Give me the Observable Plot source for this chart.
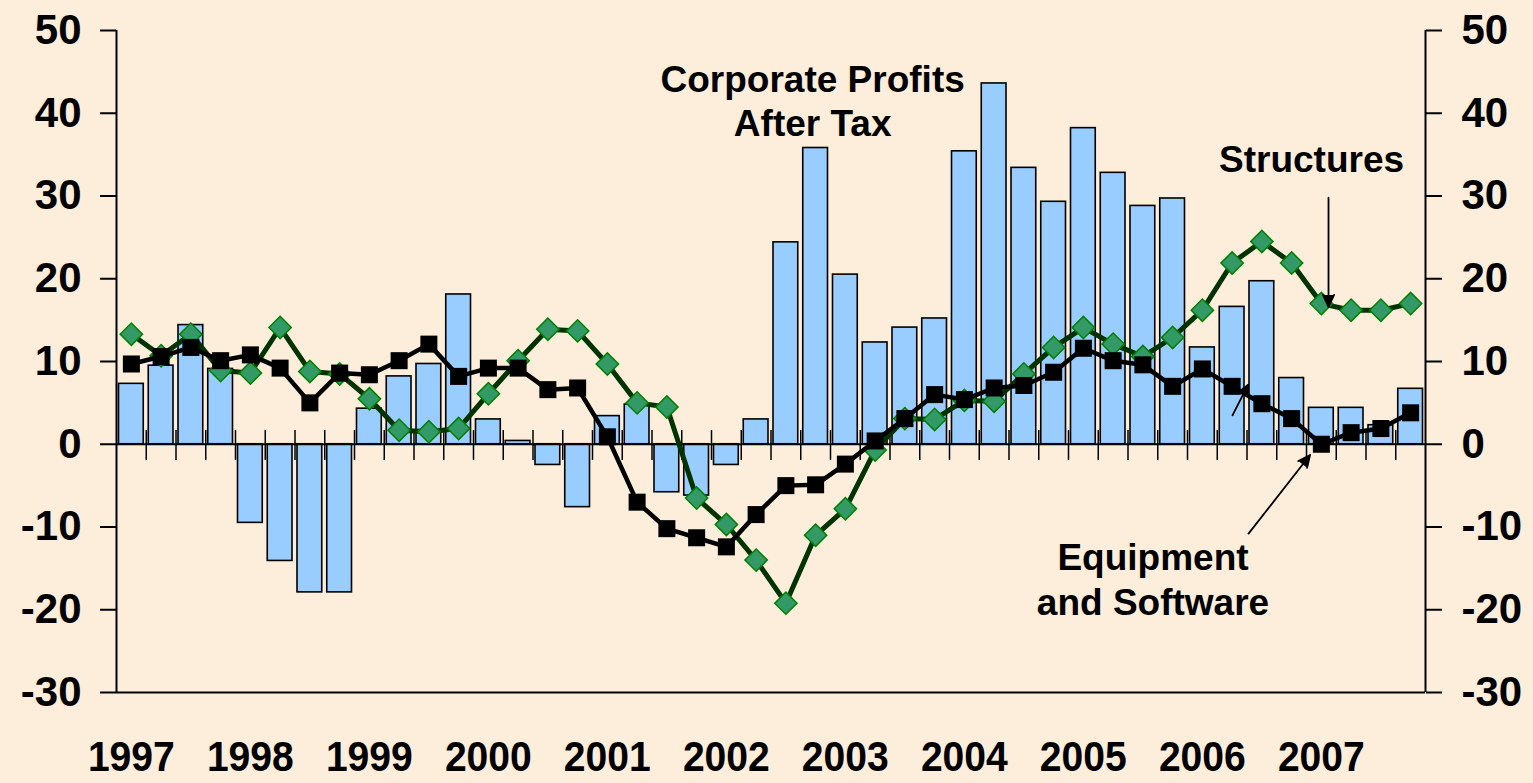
<!DOCTYPE html>
<html><head><meta charset="utf-8">
<script src="https://cdn.jsdelivr.net/npm/d3@7"></script>
<script src="https://cdn.jsdelivr.net/npm/@observablehq/plot@0.6"></script>
<style>
html,body{margin:0;padding:0;background:#FCEEDA;}
#chart{width:1533px;height:783px;overflow:hidden;}
</style></head><body><div id="chart"></div>
<script>
const years = [1997, 1998, 1999, 2000, 2001, 2002, 2003, 2004, 2005, 2006, 2007];
const yTicks = [-30, -20, -10, 0, 10, 20, 30, 40, 50];
// Corporate profits after tax (bars), quarterly 1997Q1..2007Q4
const profits = [7.3, 9.5, 14.4, 9.1, -9.5, -14.1, -17.9, -17.9, 4.3, 8.2, 9.7, 18.1,
  3.0, 0.4, -2.5, -7.6, 3.4, 4.8, -5.8, -6.2, -2.5, 3.0, 24.4, 35.8,
  20.5, 12.3, 14.1, 15.2, 35.4, 43.6, 33.4, 29.3, 38.2, 32.8, 28.8, 29.7,
  11.7, 16.6, 19.7, 8.0, 4.4, 4.4, 2.3, 6.7];
// Equipment and Software (black squares)
const equipment = [9.7, 10.6, 11.7, 10.1, 10.8, 9.2, 5.0, 8.6, 8.4, 10.1, 12.1, 8.2,
  9.2, 9.2, 6.6, 6.8, 0.9, -7.0, -10.2, -11.3, -12.4, -8.5, -5.0, -4.9,
  -2.4, 0.4, 3.1, 6.0, 5.4, 6.8, 7.1, 8.7, 11.6, 10.1, 9.6, 7.0,
  9.1, 7.0, 4.9, 3.1, 0.0, 1.4, 1.9, 3.8];
// Structures (green diamonds)
const structures = [13.3, 10.7, 13.3, 8.9, 8.6, 14.1, 8.8, 8.5, 5.5, 1.7, 1.5, 1.9,
  6.1, 10.1, 13.9, 13.7, 9.7, 5.0, 4.5, -6.5, -9.7, -14.0, -19.2, -11.0,
  -7.8, -0.7, 3.1, 3.0, 5.3, 5.2, 8.5, 11.7, 14.1, 12.1, 10.6, 12.9,
  16.2, 21.9, 24.5, 21.9, 17.0, 16.2, 16.2, 17.0];

const notes = [
  {x: 2002.85, y: 41.6, text: "Corporate Profits\nAfter Tax", anchor: "middle"},
  {x: 2007.82, y: 34.65, text: "Structures", anchor: "end"},
  {x: 2005.71, y: -16.2, text: "Equipment\nand Software", anchor: "middle"}
];
const arrows = [
  {x1: 2007.185, y1: 29.8, x2: 2007.185, y2: 16.6},
  {x1: 2006.513, y1: -10.8, x2: 2007.03, y2: -1.3},
  {x1: 2006.378, y1: 3.5, x2: 2006.51, y2: 7.2}
];

const quarters = years.flatMap(y => [0, 1, 2, 3].map(q => y + q / 4));
const rows = quarters.map((t, i) => ({
  t, t2: t + 0.25, tm: t + 0.125,
  profits: profits[i], equipment: equipment[i], structures: structures[i]
}));

const fontFamily = "'Liberation Sans', Arial, Helvetica, sans-serif";
const chart = Plot.plot({
  width: 1533, height: 783,
  marginLeft: 116, marginRight: 108, marginTop: 30, marginBottom: 91,
  style: {background: "#FCEEDA", fontFamily, color: "black", overflow: "visible"},
  x: {domain: [1997, 2008]},
  y: {domain: [-30, 50]},
  marks: [
    Plot.ruleX(quarters.slice(1), {y1: -1.95, y2: 1.65, stroke: "black", strokeWidth: 1.5}),
    Plot.rectY(rows, {x1: "t", x2: "t2", y1: 0, y2: "profits", fill: "#99CCFF", stroke: "black", strokeWidth: 1.6, insetLeft: 2.5, insetRight: 2.5}),
    Plot.ruleY([0], {stroke: "black", strokeWidth: 2}),
    Plot.ruleY([-30], {stroke: "black", strokeWidth: 2}),
    Plot.ruleX([1997, 2008], {stroke: "black", strokeWidth: 2}),
    Plot.line(rows, {x: "tm", y: "structures", stroke: "#003300", strokeWidth: 5}),
    Plot.dot(rows, {x: "tm", y: "structures", symbol: "square", rotate: 45, r: 8.9, fill: "#339966", stroke: "#008000", strokeWidth: 1.5}),
    Plot.line(rows, {x: "tm", y: "equipment", stroke: "black", strokeWidth: 4.5}),
    Plot.dot(rows, {x: "tm", y: "equipment", symbol: "square", r: 9.6, fill: "black"}),
    Plot.axisY(yTicks, {anchor: "left", tickSize: 16, tickPadding: 19, fontSize: 42, fontWeight: "bold", strokeWidth: 2, tickFormat: d => String(d)}),
    Plot.axisY(yTicks, {anchor: "right", tickSize: 16, tickPadding: 20, fontSize: 42, fontWeight: "bold", strokeWidth: 2, tickFormat: d => String(d)}),
    Plot.axisX(years.map(y => y + 0.125), {anchor: "bottom", tickSize: 0, tickPadding: 49, fontSize: 42, fontWeight: "bold", tickFormat: d => String(Math.floor(d))}),
    Plot.arrow(arrows, {x1: "x1", y1: "y1", x2: "x2", y2: "y2", stroke: "black", fill: "black", strokeWidth: 1.8, headLength: 11, headAngle: 50}),
    Plot.text(notes, {x: "x", y: "y", text: "text", textAnchor: "end", filter: d => d.anchor === "end", fontSize: 37, fontWeight: "bold", lineHeight: 1.2, fill: "black"}),
    Plot.text(notes, {x: "x", y: "y", text: "text", filter: d => d.anchor === "middle", fontSize: 37, fontWeight: "bold", lineHeight: 1.2, fill: "black"})
  ]
});
// condense the year labels (narrow bold face in the original)
d3.select(chart).selectAll("g[aria-label='x-axis tick label'] text")
  .attr("textLength", 87).attr("lengthAdjust", "spacingAndGlyphs");
document.getElementById("chart").appendChild(chart);
</script></body></html>
